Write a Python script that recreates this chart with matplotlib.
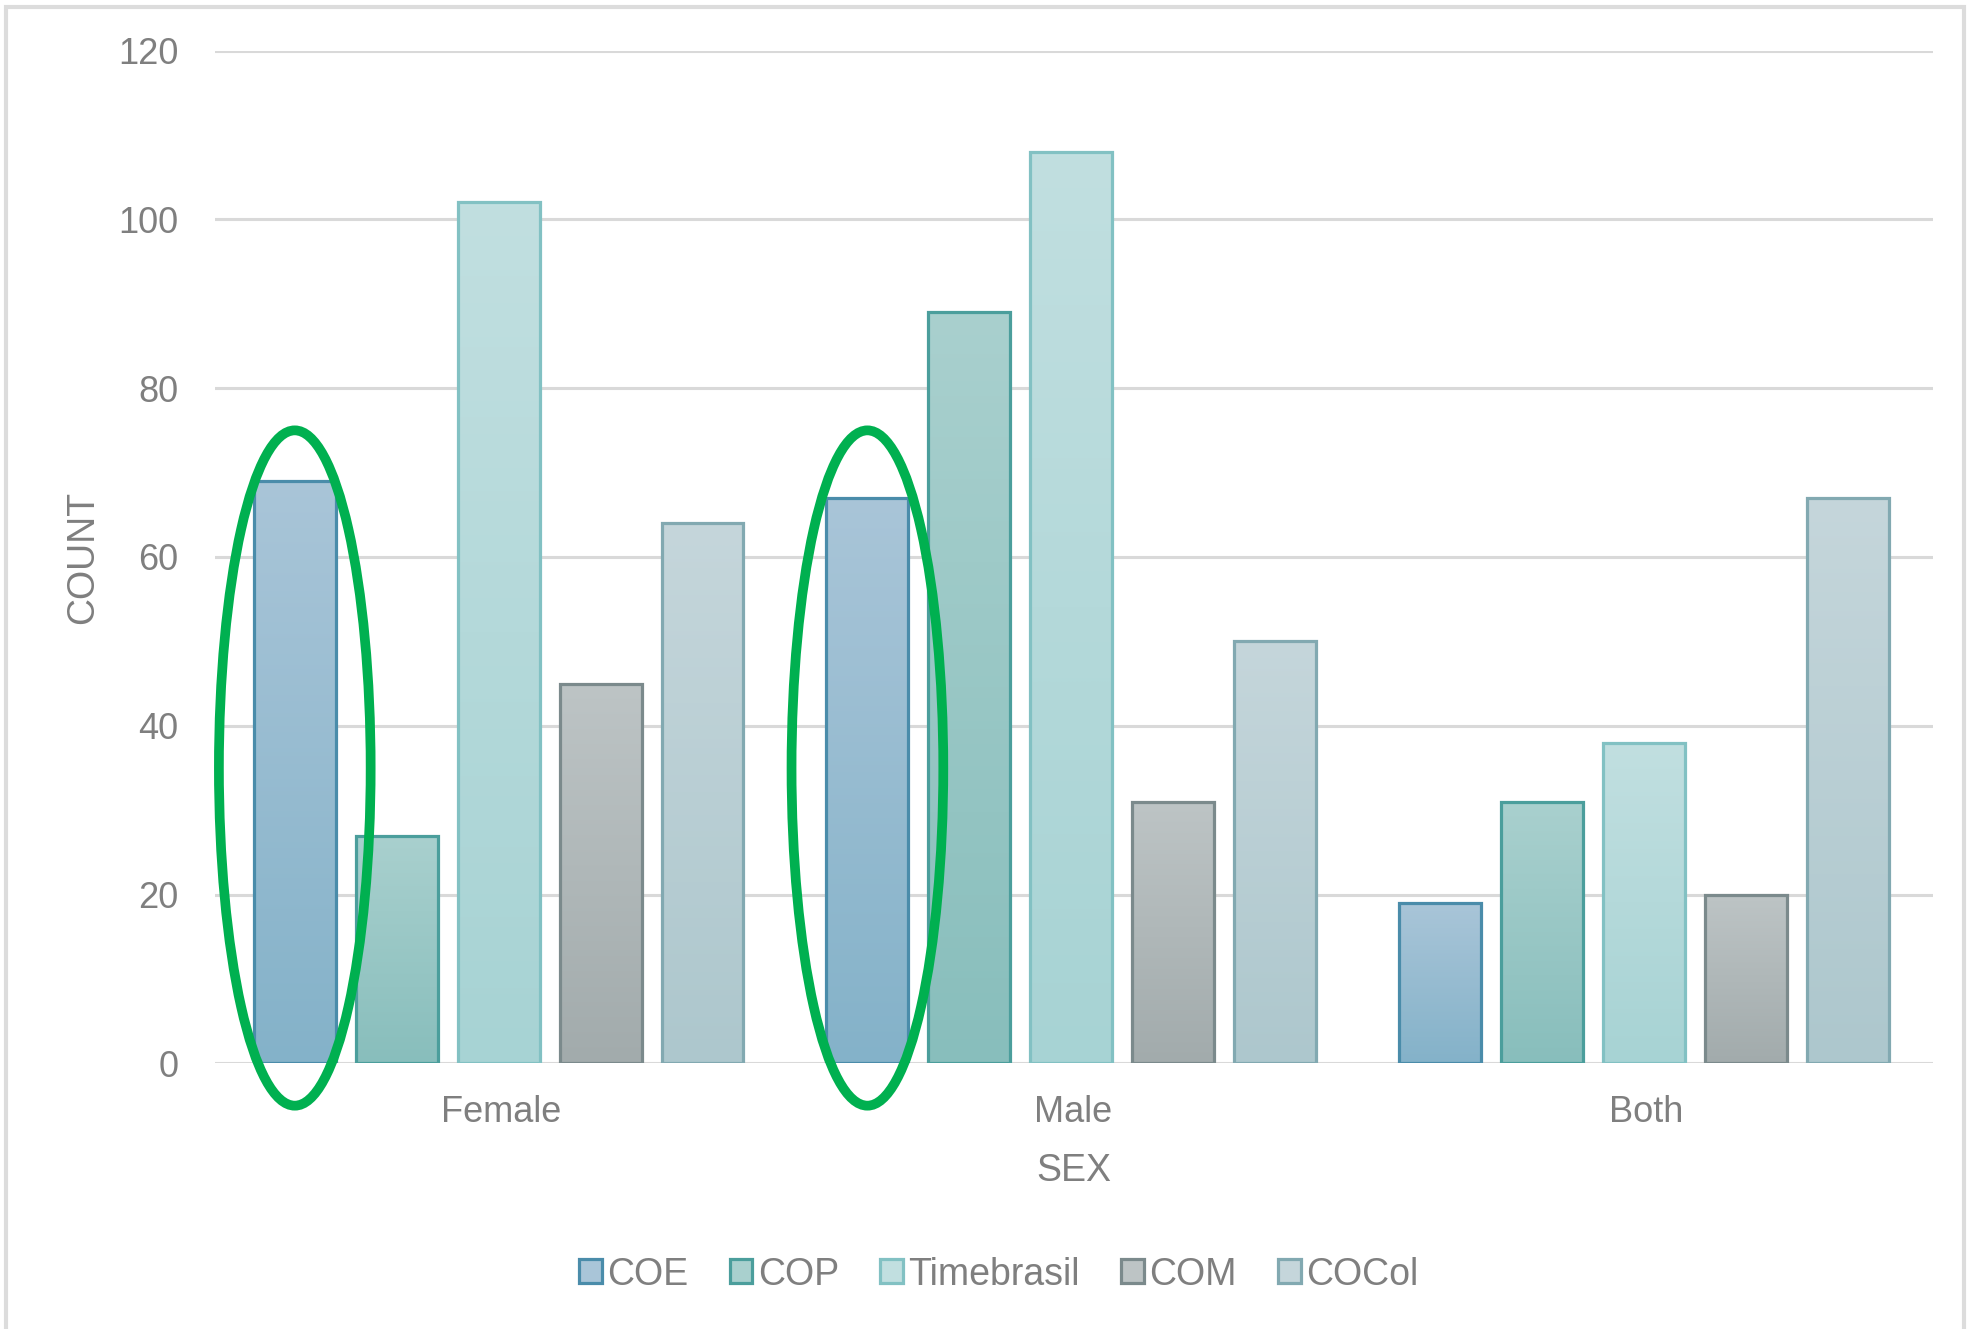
import numpy as np
import matplotlib
matplotlib.use("Agg")
import matplotlib.pyplot as plt
from matplotlib.colors import LinearSegmentedColormap
from matplotlib.patches import Ellipse, Patch, Rectangle

plt.rcParams['font.family'] = ['Liberation Sans', 'DejaVu Sans']

categories = ['Female', 'Male', 'Both']
series = ['COE', 'COP', 'Timebrasil', 'COM', 'COCol']
counts = {
    'COE':        [69, 67, 19],
    'COP':        [27, 89, 31],
    'Timebrasil': [102, 108, 38],
    'COM':        [45, 31, 20],
    'COCol':      [64, 50, 67],
}
highlighted = 'COE'
ringed = ['Female', 'Male']

# (top colour, bottom colour, edge colour) per series
styles = {
    'COE':        ('#a9c5d8', '#84b2c9', '#4a8caa'),
    'COP':        ('#a9d0ce', '#88bebc', '#4b9e9c'),
    'Timebrasil': ('#c1dfe0', '#a7d3d4', '#82c1c3'),
    'COM':        ('#bdc4c5', '#a2abac', '#7b8a8c'),
    'COCol':      ('#c5d6db', '#adc7cd', '#82a9b1'),
}

text_grey = '#7f7f7f'

fig = plt.figure(figsize=(19.78, 13.29), dpi=100)
ax = fig.add_axes([0.1085, 0.1998, 0.8685, 0.7622])

x = np.arange(len(categories))
step = 0.178
width = 0.143

bars_by_series = {}
for i, name in enumerate(series):
    top, bottom, edge = styles[name]
    cmap = LinearSegmentedColormap.from_list(name, [bottom, top])
    bars = ax.bar(x + (i - 2) * step - 0.004, counts[name], width,
                  facecolor='none', edgecolor=edge, linewidth=2.3, zorder=3)
    grad = np.linspace(1, 0, 256).reshape(-1, 1)
    for b in bars:
        ax.imshow(grad, cmap=cmap, aspect='auto', vmin=0, vmax=1,
                  extent=[b.get_x(), b.get_x() + b.get_width(), 0, b.get_height()],
                  zorder=2, interpolation='bicubic')
    bars_by_series[name] = bars

ax.set_xlim(-0.5, len(categories) - 0.5)
ax.set_ylim(0, 120)
ax.set_yticks(range(0, 121, 20))
ax.set_xticks(x)
ax.set_xticklabels(categories)

ax.grid(axis='y', color='#d9d9d9', linewidth=2.2, zorder=0)
ax.set_axisbelow(True)
for s in ax.spines.values():
    s.set_visible(False)
ax.tick_params(axis='both', length=0, labelsize=26, labelcolor=text_grey)
ax.tick_params(axis='y', pad=26)
ax.tick_params(axis='x', pad=23)

ax.set_xlabel('SEX', fontsize=27, color=text_grey, labelpad=16)
ax.set_ylabel('COUNT', fontsize=27, color=text_grey, labelpad=12)

# green rings around the highlighted bars
for cat, b in zip(categories, bars_by_series[highlighted]):
    if cat not in ringed:
        continue
    cx = b.get_x() + b.get_width() / 2
    ring = Ellipse((cx, 35), 0.265, 80, fill=False, edgecolor='#00b050',
                   linewidth=7, zorder=5, clip_on=False)
    ax.add_patch(ring)

handles = [Patch(facecolor=styles[n][0], edgecolor=styles[n][2], linewidth=2.3)
           for n in series]
fig.legend(handles, series, loc='center', bbox_to_anchor=(0.505, 0.041),
           ncol=5, frameon=False, fontsize=27, handlelength=0.6,
           handleheight=0.6, handletextpad=0.15, columnspacing=1.1,
           labelcolor=text_grey)

# light frame round the chart area
fig.patches.append(Rectangle((0.003, -0.01), 0.99, 1.005, transform=fig.transFigure,
                             fill=False, edgecolor='#dcdcdc', linewidth=3))

fig.savefig('out.png', dpi=100, facecolor='white')
